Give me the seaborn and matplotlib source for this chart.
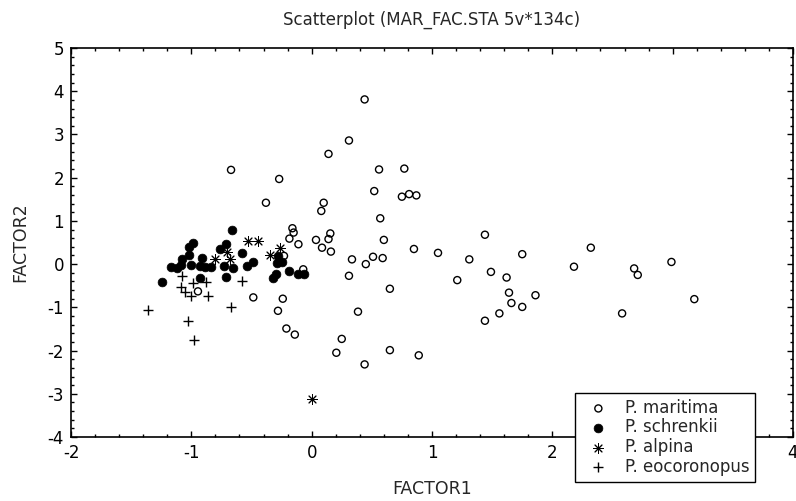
import matplotlib
matplotlib.use("Agg")
import matplotlib.pyplot as plt
from matplotlib.ticker import MultipleLocator
import seaborn as sns

# P. maritima (open circles)
maritima_x = [-0.67, -0.27, -0.38, 0.10, 0.08, 0.14, 0.31, 0.44, 0.56, 0.77,
              0.52, 0.75, 0.81, 0.87, 0.57, -0.16, -0.15, -0.185, -0.11, 0.036,
              0.086, 0.155, 0.14, 0.16, 0.60, 0.85, 1.05, 1.31, 1.44, 0.335,
              0.51, 0.45, 0.59, 0.31, 0.65, 1.21, -0.23, -0.07, -0.945, -0.485,
              -0.24, -0.28, -0.21, -0.14, 0.385, 0.25, 0.205, 0.65, 0.89, 0.44,
              1.44, 1.56, 1.75, 1.49, 1.62, 1.64, 1.66, 1.75, 1.86, 2.18,
              2.32, 2.68, 2.71, 2.99, 3.18, 2.58]
maritima_y = [2.18, 1.97, 1.42, 1.42, 1.23, 2.55, 2.86, 3.81, 2.19, 2.21,
              1.69, 1.56, 1.62, 1.59, 1.06, 0.83, 0.73, 0.59, 0.46, 0.56,
              0.38, 0.71, 0.58, 0.29, 0.56, 0.35, 0.26, 0.11, 0.68, 0.11,
              0.17, 0.0, 0.14, -0.27, -0.57, -0.37, 0.19, -0.12, -0.63, -0.77,
              -0.80, -1.08, -1.49, -1.63, -1.10, -1.73, -2.05, -1.99, -2.11, -2.32,
              -1.31, -1.14, 0.23, -0.18, -0.31, -0.66, -0.90, -0.99, -0.72, -0.06,
              0.38, -0.10, -0.25, 0.05, -0.81, -1.14]

# P. schrenkii (filled circles)
schrenkii_x = [-0.66, -0.99, -1.02, -1.02, -1.08, -1.17, -1.12, -1.09, -1.00, -0.91,
               -0.93, -0.89, -0.84, -0.76, -0.71, -0.73, -0.65, -0.71, -0.93, -1.24,
               -0.58, -0.54, -0.485, -0.29, -0.25, -0.28, -0.30, -0.32, -0.185, -0.11,
               -0.06]
schrenkii_y = [0.79, 0.48, 0.39, 0.21, 0.12, -0.06, -0.08, -0.02, -0.02, 0.14,
               -0.04, -0.06, -0.06, 0.35, 0.46, -0.04, -0.10, -0.30, -0.32, -0.42,
               0.26, -0.04, 0.05, 0.02, 0.05, 0.19, -0.23, -0.33, -0.15, -0.22,
               -0.22]

# P. alpina (asterisks)
alpina_x = [-0.53, -0.45, -0.80, -0.70, -0.68, -0.35, -0.26, 0.0]
alpina_y = [0.54, 0.54, 0.13, 0.28, 0.13, 0.21, 0.38, -3.13]

# P. eocoronopus (plus)
eocor_x = [-1.08, -0.99, -0.88, -1.09, -1.05, -1.00, -0.86, -0.58, -1.36, -0.67,
           -1.03, -0.98]
eocor_y = [-0.27, -0.43, -0.42, -0.52, -0.64, -0.73, -0.73, -0.39, -1.06, -1.00,
           -1.31, -1.76]

sns.set_style("ticks")
plt.rcParams["font.family"] = ["DejaVu Sans"]
plt.rcParams["axes.unicode_minus"] = False

fig = plt.figure(figsize=(7.96, 5.01), dpi=100)
ax = fig.add_axes([0.0892, 0.1277, 0.9070, 0.7765])

sns.scatterplot(x=maritima_x, y=maritima_y, ax=ax, marker="o", s=26,
                facecolors="none", edgecolors="black", linewidth=1.0,
                label="P. maritima", zorder=3)
sns.scatterplot(x=schrenkii_x, y=schrenkii_y, ax=ax, marker="o", s=40,
                color="black", edgecolor="black", linewidth=0.5,
                label="P. schrenkii", zorder=4)
sns.scatterplot(x=alpina_x, y=alpina_y, ax=ax, marker=(8, 2, 0), s=50,
                color="black", linewidth=0.7, label="P. alpina", zorder=4)
sns.scatterplot(x=eocor_x, y=eocor_y, ax=ax, marker="+", s=55,
                color="black", linewidth=1.0, label="P. eocoronopus", zorder=4)

ax.set_xlim(-2, 4)
ax.set_ylim(-4, 5)
ax.xaxis.set_major_locator(MultipleLocator(1))
ax.xaxis.set_minor_locator(MultipleLocator(0.2))
ax.yaxis.set_major_locator(MultipleLocator(1))
ax.yaxis.set_minor_locator(MultipleLocator(0.2))
ax.tick_params(which="both", direction="in", top=True, right=True,
               colors="black", labelsize=12, width=1)
ax.tick_params(which="major", length=4, pad=5)
ax.tick_params(which="minor", length=2)
for sp in ax.spines.values():
    sp.set_color("black")
    sp.set_linewidth(1.2)

ax.set_xlabel("FACTOR1", fontsize=12.5, labelpad=13)
ax.set_ylabel("FACTOR2", fontsize=12.5, labelpad=13)
ax.set_title("Scatterplot (MAR_FAC.STA 5v*134c)", fontsize=12, pad=17)

leg = ax.legend(loc="upper left", bbox_to_anchor=(0.7224, 0.2156),
                bbox_transform=fig.transFigure, borderaxespad=0,
                frameon=True, fancybox=False, framealpha=1, edgecolor="black",
                fontsize=12, handletextpad=0.55, labelspacing=0.1,
                borderpad=0.35, handlelength=2.1)
leg.get_frame().set_linewidth(1.0)
leg.set_zorder(10)

fig.savefig("out.png", dpi=100)
